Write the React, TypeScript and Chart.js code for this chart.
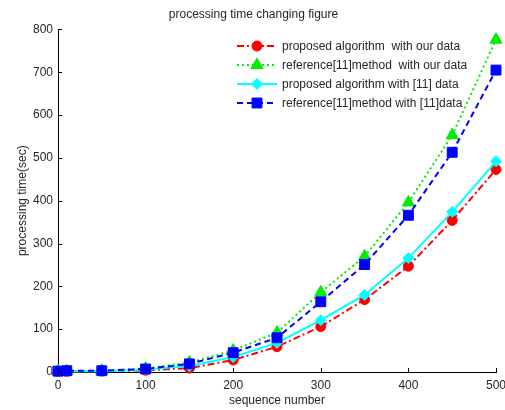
import React, { useEffect, useRef } from "react";
import { Chart, registerables } from "chart.js";
import { drawPoint } from "chart.js/helpers";

Chart.register(...registerables);

const sequenceNumbers = [0, 10, 50, 100, 150, 200, 250, 300, 350, 400, 450, 500];
const proposedOurData = [1, 1, 2, 4, 9, 28, 59, 106, 169, 247, 354, 473];
const referenceOurData = [2, 2, 3, 8, 22, 50, 92, 186, 270, 396, 553, 776];
const proposedRefData = [1, 2, 2, 6, 14, 35, 68, 121, 180, 266, 374, 492];
const referenceRefData = [2, 3, 3, 7, 19, 45, 80, 164, 251, 366, 513, 705];

const seriesLabels = [
  "proposed algorithm  with our data",
  "reference[11]method  with our data",
  "proposed algorithm with [11] data",
  "reference[11]method with [11]data",
];

const xTicks = [0, 100, 200, 300, 400, 500];
const yTicks = [0, 100, 200, 300, 400, 500, 600, 700, 800];

const FONT = "'Liberation Sans', Arial, Helvetica, sans-serif";
const TEXT = "#262626";

// Inward tick marks on the left and bottom axes, plus a line-style legend.
const axesAndLegend = {
  id: "axesAndLegend",
  afterDraw(chart: any) {
    const ctx = chart.ctx;
    const { left, bottom } = chart.chartArea;
    const xs = chart.scales.x;
    const ys = chart.scales.y;
    ctx.save();
    ctx.strokeStyle = "#000";
    ctx.lineWidth = 1;
    ctx.beginPath();
    for (const v of yTicks) {
      const py = Math.round(ys.getPixelForValue(v)) + 0.5;
      ctx.moveTo(left, py);
      ctx.lineTo(left + 4, py);
    }
    for (const v of xTicks) {
      const px = Math.round(xs.getPixelForValue(v)) + 0.5;
      ctx.moveTo(px, bottom);
      ctx.lineTo(px, bottom - 4);
    }
    ctx.stroke();

    // legend
    const lx = 237;
    const len = 40;
    const tx = 282;
    const y0 = 46;
    const step = 19;
    chart.data.datasets.forEach((ds: any, i: number) => {
      const y = y0 + i * step;
      ctx.save();
      ctx.strokeStyle = ds.borderColor;
      ctx.lineWidth = ds.borderWidth;
      ctx.setLineDash(ds.borderDash || []);
      ctx.beginPath();
      ctx.moveTo(lx, y);
      ctx.lineTo(lx + len, y);
      ctx.stroke();
      ctx.setLineDash([]);
      ctx.fillStyle = ds.pointBackgroundColor;
      ctx.strokeStyle = ds.pointBorderColor;
      ctx.lineWidth = 1;
      drawPoint(ctx, { pointStyle: ds.pointStyle, radius: ds.pointRadius, rotation: 0, borderWidth: 1 }, lx + len / 2, y);
      ctx.restore();
      ctx.fillStyle = TEXT;
      ctx.font = `12px ${FONT}`;
      ctx.textBaseline = "middle";
      ctx.textAlign = "left";
      ctx.fillText(ds.label, tx, y + 1);
    });
    ctx.restore();
  },
};

export default function App() {
  const canvasRef = useRef<HTMLCanvasElement | null>(null);

  useEffect(() => {
    if (!canvasRef.current) return;
    const mk = (
      label: string,
      data: number[],
      color: string,
      dash: number[],
      pointStyle: string,
      radius: number,
      order: number
    ) => ({
      label,
      data: sequenceNumbers.map((x, i) => ({ x, y: data[i] })),
      borderColor: color,
      backgroundColor: color,
      pointBackgroundColor: color,
      pointBorderColor: color,
      borderWidth: 2,
      borderDash: dash,
      pointStyle,
      pointRadius: radius,
      pointBorderWidth: 1,
      tension: 0,
      clip: false,
      order,
    });

    const chart = new Chart(canvasRef.current, {
      type: "line",
      data: {
        datasets: [
          mk(seriesLabels[0], proposedOurData, "#ff0000", [7, 3, 2, 3], "circle", 5, 4),
          mk(seriesLabels[1], referenceOurData, "#00ee00", [2, 3], "triangle", 7, 3),
          mk(seriesLabels[2], proposedRefData, "#00ffff", [], "rectRot", 5.5, 2),
          mk(seriesLabels[3], referenceRefData, "#0000ff", [6, 4], "rect", 7, 1),
        ] as any,
      },
      plugins: [axesAndLegend],
      options: {
        responsive: false,
        animation: false,
        layout: { padding: { left: 11, right: 9, top: 0, bottom: 2 } },
        plugins: {
          legend: { display: false },
          tooltip: { enabled: false },
          title: {
            display: true,
            text: "processing time changing figure",
            color: TEXT,
            font: { family: FONT, size: 12, weight: "normal" },
            padding: { top: 7, bottom: 8 },
          },
        },
        scales: {
          x: {
            type: "linear",
            min: 0,
            max: 500,
            afterBuildTicks: (s: any) => {
              s.ticks = xTicks.map((v) => ({ value: v }));
            },
            afterFit: (s: any) => {
              s.height = 36;
              s.paddingLeft = 0;
              s.paddingRight = 0;
            },
            grid: { display: false, drawTicks: false },
            border: { display: true, color: "#000", width: 1 },
            ticks: { color: TEXT, padding: 6, font: { family: FONT, size: 12 }, maxRotation: 0 },
            title: {
              display: true,
              text: "sequence number",
              color: TEXT,
              font: { family: FONT, size: 12 },
              padding: { top: 0, bottom: 0 },
            },
          },
          y: {
            type: "linear",
            min: 0,
            max: 800,
            afterBuildTicks: (s: any) => {
              s.ticks = yTicks.map((v) => ({ value: v }));
            },
            afterFit: (s: any) => {
              s.width = 47;
              s.paddingTop = 0;
              s.paddingBottom = 0;
            },
            grid: { display: false, drawTicks: false },
            border: { display: true, color: "#000", width: 1 },
            ticks: { color: TEXT, padding: 5, font: { family: FONT, size: 12 } },
            title: {
              display: true,
              text: "processing time(sec)",
              color: TEXT,
              font: { family: FONT, size: 12 },
              padding: { top: 4, bottom: 4 },
            },
          },
        },
      } as any,
    });
    return () => chart.destroy();
  }, []);

  return (
    <div style={{ position: "fixed", left: 0, top: 0, width: 505, height: 410, background: "#fff" }}>
      <canvas ref={canvasRef} width={505} height={410} />
    </div>
  );
}
